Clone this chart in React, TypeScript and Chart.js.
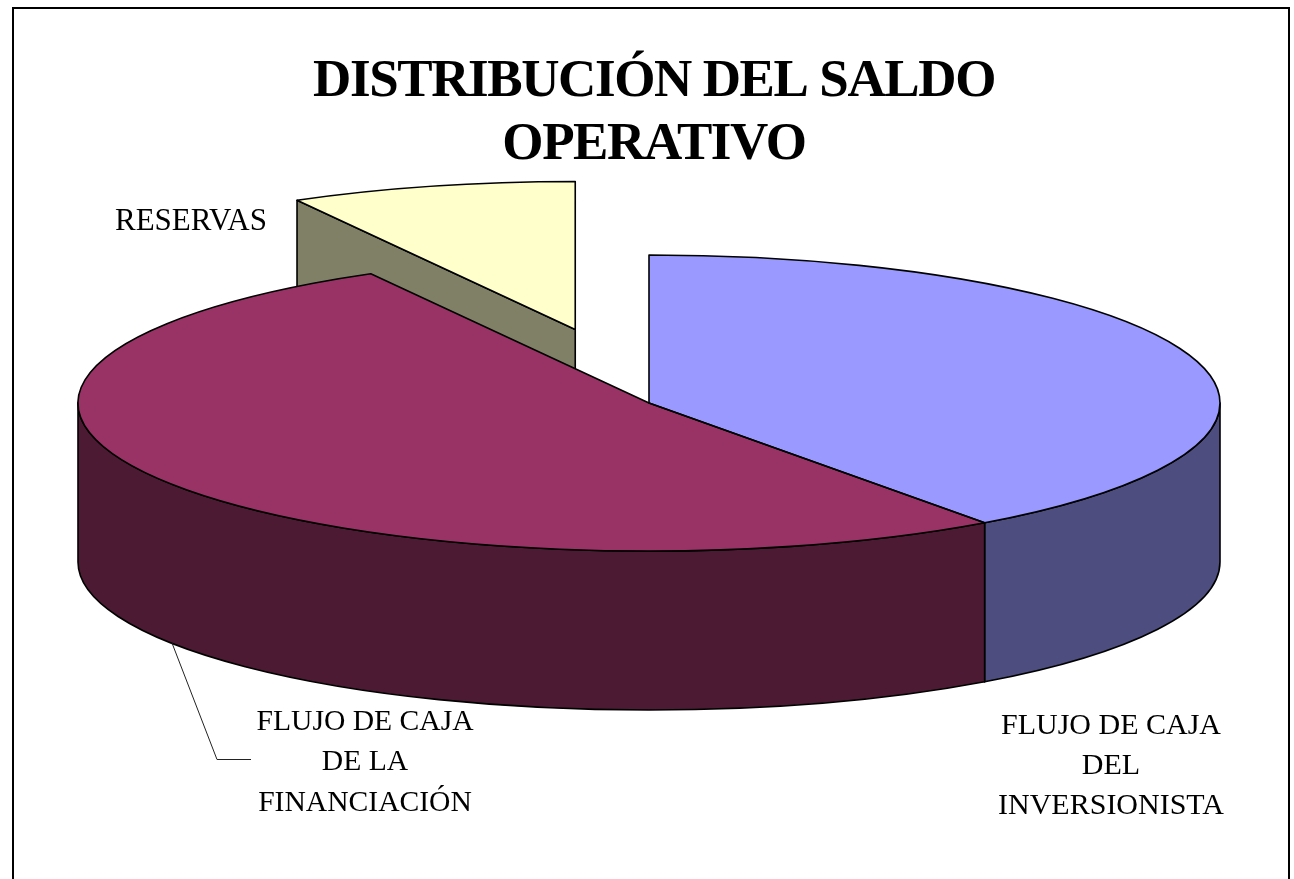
import React, { useEffect, useRef } from "react";
import { Chart, registerables } from "chart.js";

Chart.register(...registerables);

const categories = ["FLUJO DE CAJA DEL INVERSIONISTA", "FLUJO DE CAJA DE LA FINANCIACIÓN", "RESERVAS"];
const shares = [40, 51.9, 8.1];
const topColors = ["#9999FF", "#993366", "#FFFFCC"];
const sideColors = ["#4D4D80", "#4D1A33", "#808066"];
const explode = [0, 0, 293];
const titleLines = ["DISTRIBUCIÓN DEL SALDO", "OPERATIVO"];
const labelLines = [
  ["FLUJO DE CAJA", "DEL", "INVERSIONISTA"],
  ["FLUJO DE CAJA", "DE LA", "FINANCIACIÓN"],
  ["RESERVAS"],
];

const W = 1294;
const H = 879;
const CX = 649;
const CY = 403;
const RX = 571;
const RY = 148;
const DEPTH = 159;
const K = RY / RX;
const serif = "'Liberation Serif', 'Times New Roman', serif";
const labelBoxes = [
  { x: 1111, y: 726, step: 40, size: 30 },
  { x: 365, y: 722, step: 40.5, size: 29.6 },
  { x: 191, y: 222, step: 40, size: 31 },
];

function base(chart: any) {
  const a = chart.chartArea;
  return { x: (a.left + a.right) / 2, y: (a.top + a.bottom) / 2 };
}

function centerOf(chart: any, arc: any) {
  const b = base(chart);
  return { x: CX + (arc.x - b.x), y: CY + (arc.y - b.y) * K };
}

function rim(c: { x: number; y: number }, a: number, r: number, z = 0) {
  return { x: c.x + Math.cos(a) * r, y: c.y + Math.sin(a) * r * K + z };
}

const pie3d = {
  id: "pie3d",
  afterDatasetsUpdate(chart: any) {
    // pull exploded slices away from the pie's centre along their middle angle
    chart.getDatasetMeta(0).data.forEach((arc: any, i: number) => {
      const mid = (arc.startAngle + arc.endAngle) / 2;
      arc.x += Math.cos(mid) * explode[i];
      arc.y += Math.sin(mid) * explode[i];
    });
  },
  beforeDraw(chart: any) {
    const ctx = chart.ctx;
    ctx.save();
    ctx.strokeStyle = "#000";
    ctx.lineWidth = 2;
    ctx.beginPath();
    ctx.moveTo(13, H + 5);
    ctx.lineTo(13, 8);
    ctx.lineTo(1289, 8);
    ctx.lineTo(1289, H + 5);
    ctx.stroke();
    ctx.restore();
    // the reference's title is tall and tightly set
    ctx.letterSpacing = "-1.4px";
  },
  beforeDatasetsDraw(chart: any) {
    const ctx = chart.ctx;
    ctx.letterSpacing = "0px";
    const arcs = chart.getDatasetMeta(0).data;
    ctx.save();
    ctx.lineWidth = 1.6;
    ctx.strokeStyle = "#000";
    ctx.lineJoin = "round";
    const order = [2, 0, 1];
    for (const i of order) {
      const arc = arcs[i];
      const c = centerOf(chart, arc);
      const R = arc.outerRadius;
      ctx.fillStyle = sideColors[i];
      const walls = [];
      if (Math.sin(arc.startAngle - Math.PI / 2) > 1e-6) walls.push(arc.startAngle);
      if (Math.cos(arc.endAngle) > 1e-6) walls.push(arc.endAngle);
      for (const a of walls) {
        const p = rim(c, a, R);
        ctx.beginPath();
        ctx.moveTo(c.x, c.y);
        ctx.lineTo(p.x, p.y);
        ctx.lineTo(p.x, p.y + DEPTH);
        ctx.lineTo(c.x, c.y + DEPTH);
        ctx.closePath();
        ctx.fill();
        ctx.stroke();
      }
      const from = Math.max(arc.startAngle, 0);
      const to = Math.min(arc.endAngle, Math.PI);
      if (to > from) {
        const a = rim(c, from, R);
        ctx.beginPath();
        ctx.ellipse(c.x, c.y, R, R * K, 0, from, to);
        ctx.ellipse(c.x, c.y + DEPTH, R, R * K, 0, to, from, true);
        ctx.lineTo(a.x, a.y);
        ctx.closePath();
        ctx.fill();
        ctx.stroke();
      }
    }
    ctx.restore();
    // the slices' tops are drawn by Chart.js, flattened into an ellipse
    const b = base(chart);
    ctx.save();
    ctx.translate(CX, CY);
    ctx.scale(1, K);
    ctx.translate(-b.x, -b.y);
  },
  afterDatasetsDraw(chart: any) {
    const ctx = chart.ctx;
    ctx.restore();
    const arcs = chart.getDatasetMeta(0).data;
    ctx.save();
    ctx.lineWidth = 1.6;
    ctx.strokeStyle = "#000";
    ctx.lineJoin = "round";
    arcs.forEach((arc: any) => {
      const c = centerOf(chart, arc);
      ctx.beginPath();
      ctx.moveTo(c.x, c.y);
      ctx.ellipse(c.x, c.y, arc.outerRadius, arc.outerRadius * K, 0, arc.startAngle, arc.endAngle);
      ctx.closePath();
      ctx.stroke();
    });
    ctx.restore();

    ctx.save();
    ctx.strokeStyle = "#222";
    ctx.lineWidth = 1;
    ctx.beginPath();
    ctx.moveTo(172, 643);
    ctx.lineTo(217, 759.5);
    ctx.lineTo(251, 759.5);
    ctx.stroke();
    ctx.fillStyle = "#000";
    ctx.textAlign = "center";
    ctx.textBaseline = "middle";
    labelLines.forEach((lines, i) => {
      const b = labelBoxes[i];
      ctx.font = `${b.size}px ${serif}`;
      lines.forEach((t, j) => ctx.fillText(t, b.x, b.y + j * b.step));
    });
    ctx.restore();
  },
};

export default function App() {
  const ref = useRef<HTMLCanvasElement>(null);
  useEffect(() => {
    const chart = new Chart(ref.current as HTMLCanvasElement, {
      type: "pie",
      data: {
        labels: categories,
        datasets: [
          {
            data: shares,
            backgroundColor: topColors,
            borderWidth: 0,
            clip: false,
          } as any,
        ],
      },
      options: {
        responsive: false,
        animation: false,
        radius: RX,
        layout: { padding: { left: 14, right: 0, top: 0, bottom: 0 } },
        plugins: {
          legend: { display: false },
          tooltip: { enabled: false },
          title: {
            display: true,
            text: titleLines,
            color: "#000",
            font: { family: serif, size: 53, weight: "bold", lineHeight: 1.19 },
            padding: { top: 51, bottom: 10 },
          },
        },
      } as any,
      plugins: [pie3d],
    });
    return () => chart.destroy();
  }, []);
  return (
    <div style={{ position: "absolute", left: 0, top: 0, width: W, height: H, background: "#fff" }}>
      <canvas ref={ref} width={W} height={H} style={{ display: "block" }} />
    </div>
  );
}
